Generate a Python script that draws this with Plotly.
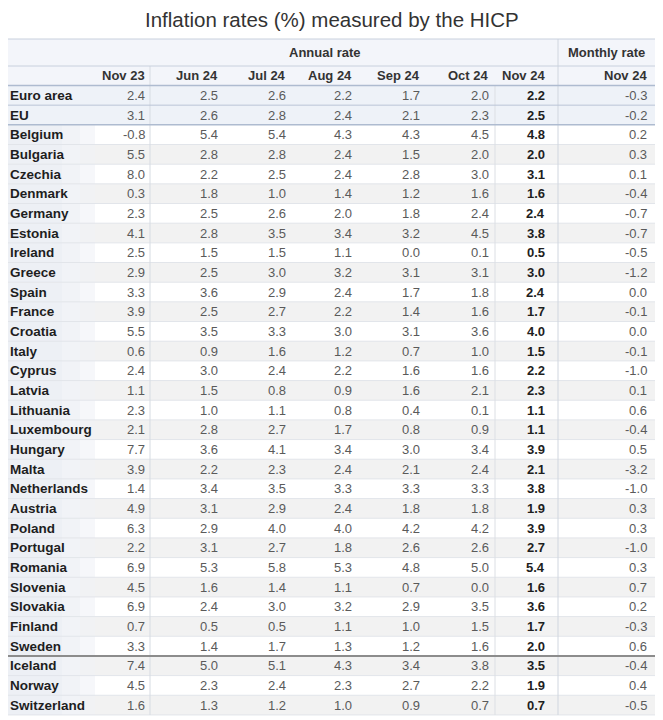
import plotly.graph_objects as go

countries = [
    "Euro area", "EU", "Belgium", "Bulgaria", "Czechia", "Denmark", "Germany", "Estonia",
    "Ireland", "Greece", "Spain", "France", "Croatia", "Italy", "Cyprus", "Latvia",
    "Lithuania", "Luxembourg", "Hungary", "Malta", "Netherlands", "Austria", "Poland",
    "Portugal", "Romania", "Slovenia", "Slovakia", "Finland", "Sweden", "Iceland",
    "Norway", "Switzerland",
]
periods = ["Nov 23", "Jun 24", "Jul 24", "Aug 24", "Sep 24", "Oct 24", "Nov 24", "Nov 24"]

nov23 = [2.4, 3.1, -0.8, 5.5, 8.0, 0.3, 2.3, 4.1, 2.5, 2.9, 3.3, 3.9, 5.5, 0.6, 2.4, 1.1,
         2.3, 2.1, 7.7, 3.9, 1.4, 4.9, 6.3, 2.2, 6.9, 4.5, 6.9, 0.7, 3.3, 7.4, 4.5, 1.6]
jun24 = [2.5, 2.6, 5.4, 2.8, 2.2, 1.8, 2.5, 2.8, 1.5, 2.5, 3.6, 2.5, 3.5, 0.9, 3.0, 1.5,
         1.0, 2.8, 3.6, 2.2, 3.4, 3.1, 2.9, 3.1, 5.3, 1.6, 2.4, 0.5, 1.4, 5.0, 2.3, 1.3]
jul24 = [2.6, 2.8, 5.4, 2.8, 2.5, 1.0, 2.6, 3.5, 1.5, 3.0, 2.9, 2.7, 3.3, 1.6, 2.4, 0.8,
         1.1, 2.7, 4.1, 2.3, 3.5, 2.9, 4.0, 2.7, 5.8, 1.4, 3.0, 0.5, 1.7, 5.1, 2.4, 1.2]
aug24 = [2.2, 2.4, 4.3, 2.4, 2.4, 1.4, 2.0, 3.4, 1.1, 3.2, 2.4, 2.2, 3.0, 1.2, 2.2, 0.9,
         0.8, 1.7, 3.4, 2.4, 3.3, 2.4, 4.0, 1.8, 5.3, 1.1, 3.2, 1.1, 1.3, 4.3, 2.3, 1.0]
sep24 = [1.7, 2.1, 4.3, 1.5, 2.8, 1.2, 1.8, 3.2, 0.0, 3.1, 1.7, 1.4, 3.1, 0.7, 1.6, 1.6,
         0.4, 0.8, 3.0, 2.1, 3.3, 1.8, 4.2, 2.6, 4.8, 0.7, 2.9, 1.0, 1.2, 3.4, 2.7, 0.9]
oct24 = [2.0, 2.3, 4.5, 2.0, 3.0, 1.6, 2.4, 4.5, 0.1, 3.1, 1.8, 1.6, 3.6, 1.0, 1.6, 2.1,
         0.1, 0.9, 3.4, 2.4, 3.3, 1.8, 4.2, 2.6, 5.0, 0.0, 3.5, 1.5, 1.6, 3.8, 2.2, 0.7]
nov24 = [2.2, 2.5, 4.8, 2.0, 3.1, 1.6, 2.4, 3.8, 0.5, 3.0, 2.4, 1.7, 4.0, 1.5, 2.2, 2.3,
         1.1, 1.1, 3.9, 2.1, 3.8, 1.9, 3.9, 2.7, 5.4, 1.6, 3.6, 1.7, 2.0, 3.5, 1.9, 0.7]
monthly_nov24 = [-0.3, -0.2, 0.2, 0.3, 0.1, -0.4, -0.7, -0.7, -0.5, -1.2, 0.0, -0.1, 0.0, -0.1,
                 -1.0, 0.1, 0.6, -0.4, 0.5, -3.2, -1.0, 0.3, 0.3, -1.0, 0.3, 0.7, 0.2, -0.3,
                 0.6, -0.4, 0.4, -0.5]

columns = [nov23, jun24, jul24, aug24, sep24, oct24, nov24, monthly_nov24]
title = "Inflation rates (%) measured by the HICP"

# the page body has an 8px margin, so the figure is 8px smaller and the axes
# are shifted so that axis units equal window pixels
W, H = 663, 720
PAGE_MARGIN = 8
FONT = "Liberation Sans, Arial, sans-serif"
LEFT, RIGHT = 8, 658
TOP, HEAD_MID, HEAD_BOTTOM = 39, 66, 85.5
ROW_H = 19.67
col_right = [146, 219, 287, 353, 421, 490, 546, 648]
bold_cols = {6}
n_rows = len(countries)


def row_top(i):
    return HEAD_BOTTOM + i * ROW_H


def rect(x0, x1, y0, y1, color):
    return dict(type="rect", xref="x", yref="y", x0=x0, x1=x1, y0=y0, y1=y1,
                fillcolor=color, line=dict(width=0), layer="below")


def hline(y, color, width=1, x0=LEFT, x1=RIGHT):
    return dict(type="line", xref="x", yref="y", x0=x0, x1=x1, y0=y, y1=y,
                line=dict(color=color, width=width))


def vline(x, y0, y1, color, width=1):
    return dict(type="line", xref="x", yref="y", x0=x, x1=x, y0=y0, y1=y1,
                line=dict(color=color, width=width))


shapes = [rect(LEFT, RIGHT, TOP, HEAD_BOTTOM, "#f3f5fa")]
for i in range(n_rows):
    y0, y1 = row_top(i), row_top(i + 1)
    if i < 2:
        shapes.append(rect(LEFT, RIGHT, y0, y1, "#eef2f8"))
        continue
    if i % 2 == 1:
        shapes.append(rect(LEFT, RIGHT, y0, y1, "#f2f2f2"))
    # label column fades out to the right
    shapes.append(rect(LEFT, 62, y0, y1, "#edf0f5"))
    shapes.append(rect(62, 80, y0, y1, "#f1f3f7"))
    shapes.append(rect(80, 95, y0, y1, "#f6f7fa" if i % 2 == 0 else "#f1f2f4"))

for i in range(2, n_rows):
    shapes.append(hline(row_top(i + 1), "#e2e5ea"))

shapes += [
    vline(150, HEAD_MID, row_top(n_rows), "#d6dbe2"),
    vline(495, HEAD_BOTTOM, row_top(n_rows), "#dcdfe4"),
    vline(558, TOP, row_top(n_rows), "#d0d6df"),
    vline(RIGHT, TOP, row_top(n_rows), "#c4c4c4", 1.5),
    hline(TOP, "#c8d0dd"),
    hline(HEAD_MID, "#c8d0dd"),
    hline(HEAD_BOTTOM, "#aebbd0", 1.5),
    hline(row_top(1), "#b9c4d6"),
    hline(row_top(2), "#aebbd0", 1.5),
    hline(row_top(29), "#8c8c8c", 2),
]

annotations = []


def add_text(x, y, text, anchor, color, size=13, bold=False):
    annotations.append(dict(
        x=x, y=y, xref="x", yref="y", text=text, showarrow=False,
        xanchor=anchor, yanchor="middle", borderpad=0,
        font=dict(family=FONT, size=size, color=color, weight="bold" if bold else "normal"),
    ))


add_text(332, 19, title, "center", "#333333", size=20.5)
add_text(325, 52.5, "Annual rate", "center", "#333333", bold=True)
add_text(606, 52.5, "Monthly rate", "center", "#333333", bold=True)
for c, label in enumerate(periods):
    add_text(col_right[c], 75.5, label, "right", "#333333", bold=True)

for i, name in enumerate(countries):
    yc = row_top(i) + ROW_H / 2
    add_text(9, yc, name, "left", "#1e1e1e", size=13.5, bold=True)
    for c, values in enumerate(columns):
        bold = c in bold_cols
        add_text(col_right[c], yc, f"{values[i]:.1f}", "right",
                 "#1e1e1e" if bold else "#5a5a5a", bold=bold)

fig = go.Figure()
fig.update_layout(
    width=W - PAGE_MARGIN, height=H - PAGE_MARGIN,
    margin=dict(l=0, r=0, t=0, b=0),
    paper_bgcolor="white", plot_bgcolor="white",
    xaxis=dict(range=[PAGE_MARGIN, W], visible=False, fixedrange=True),
    yaxis=dict(range=[H, PAGE_MARGIN], visible=False, fixedrange=True),
    shapes=shapes,
    annotations=annotations,
    showlegend=False,
)

fig.write_html("out.html")
